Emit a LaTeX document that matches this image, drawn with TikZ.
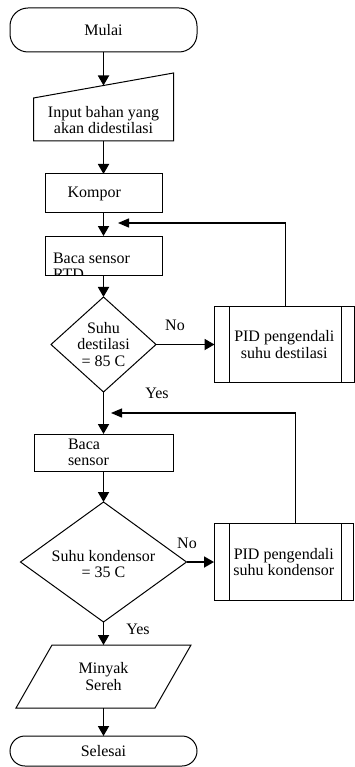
\documentclass[tikz,border=0pt]{standalone}
\usepackage{fontspec}
\setmainfont{Liberation Serif}
\usepackage{tikz}
\usetikzlibrary{positioning,arrows.meta,shapes.geometric}

\tikzset{
  every node/.style={font=\fontsize{16}{16.5}\selectfont, outer sep=0pt},
  terminal/.style={draw, line width=1pt, rounded corners=18pt, minimum width=187pt, minimum height=44pt},
  process/.style={draw, line width=1pt, minimum width=117pt, minimum height=39pt},
  decision/.style={draw, diamond, line width=1pt, inner sep=0pt},
  predef/.style={draw, line width=1pt, minimum width=139.5pt, align=center},
  shell/.style={minimum width=140pt, inner sep=0pt},
  flow/.style={line width=1.8pt, -{Triangle[width=11pt,length=10pt]}},
  loopback/.style={line width=1.3pt, -{Triangle[width=9pt,length=11pt]}},
}

\begin{document}
\begin{tikzpicture}[x=1pt,y=-1pt]
  \useasboundingbox (0,0) rectangle (354,767);

  % main column
  \node[terminal] (mulai) at (103.5,30) {Mulai};
  \node[shell, minimum height=42pt, align=center] (input) [below=47pt of mulai] {Input bahan yang\\akan didestilasi};
  \node[process, text width=72pt, align=left] (kompor) [below=33pt of input] {Kompor};
  \node[process] (rtd) [below=23pt of kompor] {};
  \node[decision, minimum width=105pt, minimum height=95pt] (d1) [below=22pt of rtd] {};
  \node[process, minimum width=139pt, minimum height=37pt, inner ysep=2pt, text width=71pt, align=left] (baca) [below=42pt of d1] {Baca\\sensor};
  \node[decision, minimum width=166pt, minimum height=120pt] (d2) [below=31pt of baca] {};
  \node[shell, minimum width=139pt, minimum height=63pt, align=center] (minyak) [below=23pt of d2] {Minyak\\Sereh};
  \node[terminal, minimum height=30pt, rounded corners=15pt] (selesai) [below=28pt of minyak] {Selesai};

  % outlines of the input shapes
  \draw[line width=1pt] (input.south west) -- (input.south east) -- ([yshift=26pt]input.north east) -- ([yshift=1pt]input.north west) -- cycle;
  \draw[line width=1pt] ([xshift=18pt]minyak.north west) -- ([xshift=18pt]minyak.north east) -- ([xshift=-18pt]minyak.south east) -- ([xshift=-18pt]minyak.south west) -- cycle;
  \coordinate (inputtop) at ([yshift=13.5pt]input.north);

  % texts inside
  \begin{scope}
    \clip (rtd.south west) rectangle (rtd.north east);
    \node[anchor=west, inner sep=0pt, align=left] (rtdtext) at (53,266.5) {Baca sensor\\RTD};
  \end{scope}
  \node[align=center] (d1text) at (d1) {Suhu\\destilasi\\= 85 C};
  \node[align=center] (d2text) at ([yshift=-2pt]d2.center) {Suhu kondensor\\= 35 C};

  % controllers
  \node[predef, minimum height=76pt] (pid1) [right=58.5pt of d1] {PID pengendali\\suhu destilasi};
  \node[predef, minimum height=77pt] (pid2) [right=27.5pt of d2] {PID pengendali\\suhu kondensor};
  \foreach \p in {pid1,pid2} {
    \draw[line width=1pt] ([xshift=15pt]\p.north west) -- ([xshift=15pt]\p.south west);
    \draw[line width=1pt] ([xshift=-12.5pt]\p.north east) -- ([xshift=-12.5pt]\p.south east);
  }

  \draw[flow] (mulai) -- (inputtop);
  \draw[flow] (input) -- (kompor);
  \draw[flow] (kompor) -- (rtd);
  \draw[flow] (rtd) -- (d1);
  \draw[flow] (d1) -- (baca);
  \draw[flow] (baca) -- (d2);
  \draw[flow] (d2) -- (minyak);
  \draw[flow] (minyak) -- (selesai);
  \draw[flow] (d1) -- (pid1);
  \draw[flow] (d2) -- (pid2);

  % feedback loops
  \coordinate (join1) at (118,223);
  \coordinate (join2) at (111,413);
  \draw[loopback] ([xshift=1pt]pid1.north) |- (join1);
  \draw[loopback] ([xshift=12pt]pid2.north) |- (join2);

  \node[] (no1) at (175,325) {No};
  \node[] (yes1) at (157,393) {Yes};
  \node[] (no2) at (187,543) {No};
  \node[] (yes2) at (138,629) {Yes};

\end{tikzpicture}
\end{document}
